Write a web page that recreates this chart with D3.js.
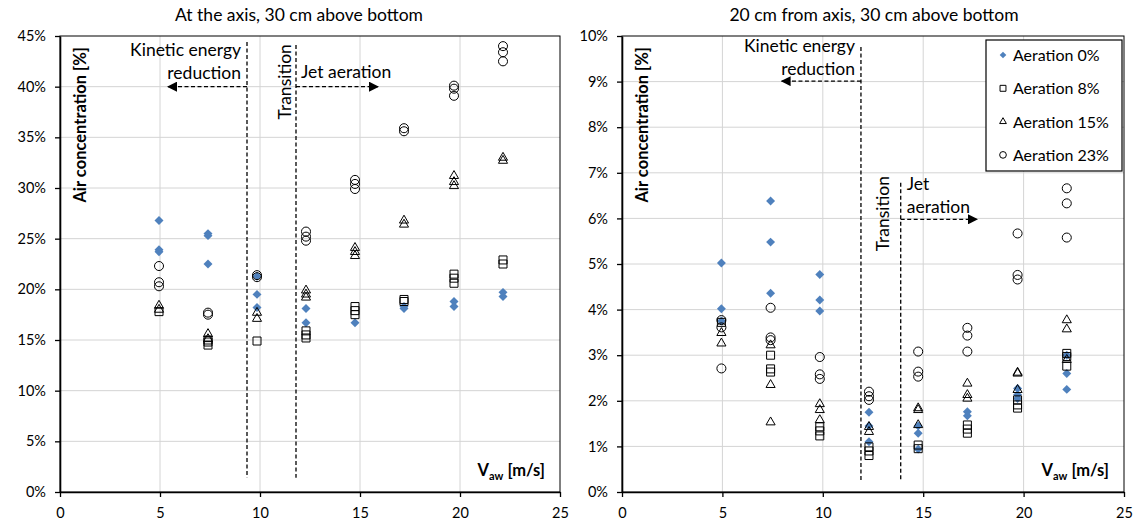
<!DOCTYPE html>
<html>
<head>
<meta charset="utf-8">
<script src="https://cdn.jsdelivr.net/npm/d3@7"></script>
<style>
body { margin: 0; background: #fff; }
text { font-family: Lato, "Open Sans", sans-serif; fill: #000; }
</style>
</head>
<body>
<svg id="chart" width="1146" height="526"></svg>
<script>
// velocity columns (m/s), shared by both charts
const xCols = [4.95, 7.4, 9.85, 12.3, 14.75, 17.2, 19.7, 22.15];

// left chart: at the axis, values in % per column
const axisAer0 = [[26.8, 23.9, 23.7], [25.5, 25.3, 22.5], [21.3, 19.5, 18.2], [18.1, 16.7], [16.7], [18.3, 18.1], [18.8, 18.3], [19.7, 19.3]];
const axisAer8 = [[17.8], [15.0, 14.8, 14.5], [14.9], [15.9, 15.5, 15.2], [18.3, 17.9, 17.5], [19.0, 18.8], [21.5, 21.1, 20.6], [22.9, 22.5]];
const axisAer15 = [[18.4, 18.0], [15.6, 15.1], [17.7, 17.1], [19.9, 19.5, 19.2], [24.1, 23.7, 23.3], [26.8, 26.4], [31.2, 30.6, 30.2], [33.0, 32.7]];
const axisAer23 = [[22.3, 20.7, 20.3], [17.7, 17.5], [21.4, 21.2], [25.7, 25.2, 24.8], [30.8, 30.4, 29.9], [35.9, 35.6], [40.1, 39.8, 39.1], [44.0, 43.4, 42.5]];

// right chart: 20 cm from axis
const offAer0 = [[5.02, 4.02, 3.75], [6.38, 5.48, 4.36], [4.77, 4.21, 3.97], [1.75, 1.45, 1.10], [1.45, 1.29, 0.94], [1.76, 1.67], [2.27, 2.13, 2.05], [3.0, 2.6, 2.25]];
const offAer8 = [[3.72], [3.0, 2.7, 2.63], [1.43, 1.34, 1.23], [0.99, 0.9, 0.8], [1.03, 0.95], [1.47, 1.38, 1.29], [2.02, 1.91, 1.84], [3.04, 2.97, 2.76]];
const offAer15 = [[3.49, 3.26], [3.22, 2.35, 1.53], [1.93, 1.8, 1.58], [1.43, 1.32], [1.84, 1.8, 1.47], [2.38, 2.13, 2.05], [2.62, 2.6, 2.24], [3.77, 3.57, 2.9]];
const offAer23 = [[3.77, 3.61, 2.71], [4.04, 3.39, 3.33], [2.96, 2.58, 2.48], [2.2, 2.1, 2.02], [3.08, 2.64, 2.53], [3.6, 3.43, 3.08], [5.67, 4.76, 4.66], [6.66, 6.33, 5.58]];

const seriesNames = ['Aeration 0%', 'Aeration 8%', 'Aeration 15%', 'Aeration 23%'];
const xTicks = [0, 5, 10, 15, 20, 25];
const leftYTicks = d3.range(0, 46, 5);
const rightYTicks = d3.range(0, 11, 1);

const svg = d3.select('#chart');
const blue = '#4f81bd';

const styles = [
    { type: d3.symbolSquare, size: 40, rot: 45, fill: blue, stroke: 'none' },
    { type: d3.symbolSquare, size: 64, rot: 0, fill: 'none', stroke: '#000' },
    { type: d3.symbolTriangle, size: 36, rot: 0, fill: 'none', stroke: '#000' },
    { type: d3.symbolCircle, size: 64, rot: 0, fill: 'none', stroke: '#000' }
];

svg.append('defs').append('marker')
    .attr('id', 'arrow')
    .attr('viewBox', '0 0 10 10')
    .attr('refX', 9).attr('refY', 5)
    .attr('markerWidth', 10).attr('markerHeight', 10)
    .attr('markerUnits', 'userSpaceOnUse')
    .attr('orient', 'auto')
    .append('path')
    .attr('d', 'M0,0 L10,5 L0,10 z')
    .attr('fill', '#000');

function toPoints(cols) {
    const pts = [];
    cols.forEach((vals, i) => vals.forEach(v => pts.push({ x: xCols[i], y: v })));
    return pts;
}

function drawChart(opt) {
    const g = svg.append('g');
    const x = d3.scaleLinear().domain([0, 25]).range([opt.left, opt.right]);
    const y = d3.scaleLinear().domain([0, opt.yMax]).range([492, 36]);

    // gridlines
    g.selectAll('.hg').data(opt.yTicks.slice(1, -1)).enter().append('line')
        .attr('x1', opt.left).attr('x2', opt.right)
        .attr('y1', d => y(d)).attr('y2', d => y(d))
        .attr('stroke', '#d4d4d4').attr('stroke-width', 1);
    g.selectAll('.vg').data(xTicks.slice(1, -1)).enter().append('line')
        .attr('x1', d => x(d)).attr('x2', d => x(d))
        .attr('y1', 36).attr('y2', 492)
        .attr('stroke', '#d4d4d4').attr('stroke-width', 1);

    // plot border
    g.append('rect')
        .attr('x', opt.left).attr('y', 36)
        .attr('width', opt.right - opt.left).attr('height', 456)
        .attr('fill', 'none').attr('stroke', '#000').attr('stroke-width', 1);

    const yAxis = g.append('g')
        .attr('transform', 'translate(' + opt.left + ',0)')
        .call(d3.axisLeft(y).tickValues(opt.yTicks).tickFormat(d => d + '%').tickSize(5).tickSizeOuter(0).tickPadding(9));
    const xAxis = g.append('g')
        .attr('transform', 'translate(0,492)')
        .call(d3.axisBottom(x).tickValues(xTicks).tickSize(5).tickSizeOuter(0).tickPadding(11));
    [xAxis, yAxis].forEach(a => {
        a.select('.domain').attr('stroke', '#000').attr('stroke-width', 1.6);
        a.selectAll('.tick line').attr('stroke', '#000').attr('stroke-width', 1.3);
        a.selectAll('.tick text').style('font-size', '14.5px').style('font-family', 'Lato, sans-serif').attr('fill', '#000');
    });

    // title
    g.append('text')
        .attr('x', opt.titleX).attr('y', 21)
        .attr('text-anchor', 'middle')
        .style('font-size', '17.5px')
        .text(opt.title);

    // axis titles
    g.append('text')
        .attr('transform', 'translate(' + (opt.left + 26) + ',47) rotate(-90)')
        .attr('text-anchor', 'end')
        .style('font-size', '16.5px').style('font-weight', 'bold')
        .text('Air concentration [%]');
    const vt = g.append('text')
        .attr('x', opt.right - 15).attr('y', 476)
        .attr('text-anchor', 'end')
        .style('font-size', '16.5px').style('font-weight', 'bold');
    vt.append('tspan').text('V');
    vt.append('tspan').attr('dy', 4).style('font-size', '11px').text('aw');
    vt.append('tspan').attr('dy', -4).text(' [m/s]');

    // annotations
    const dashed = (x1, y1, x2, y2, arrow) => {
        const l = g.append('line')
            .attr('x1', x(x1)).attr('y1', y(y1)).attr('x2', x(x2)).attr('y2', y(y2))
            .attr('stroke', '#000').attr('stroke-width', 1.3)
            .attr('stroke-dasharray', '4,2.5');
        if (arrow) l.attr('marker-end', 'url(#arrow)');
    };
    const label = (tx, ty, txt, anchor) => g.append('text')
        .attr('x', x(tx)).attr('y', y(ty))
        .attr('text-anchor', anchor)
        .style('font-size', '17.5px')
        .text(txt);

    const a = opt.notes;
    dashed(a.line1, a.line1Top, a.line1, a.lineBottom, false);
    dashed(a.line2, a.line2Top, a.line2, a.lineBottom, false);
    dashed(a.line1, a.arrowLeftY, a.arrowLeftEnd, a.arrowLeftY, true);
    dashed(a.line2, a.arrowRightY, a.arrowRightEnd, a.arrowRightY, true);
    a.leftText.forEach(t => label(t[0], t[1], t[2], 'end'));
    a.rightText.forEach(t => label(t[0], t[1], t[2], 'start'));
    g.append('text')
        .attr('transform', 'translate(' + x(a.transX) + ',' + y(a.transY) + ') rotate(-90)')
        .attr('text-anchor', 'end')
        .style('font-size', '17.5px')
        .text('Transition');

    // points
    opt.series.forEach((cols, i) => {
        const s = styles[i];
        const sym = d3.symbol().type(s.type).size(s.size);
        g.append('g').selectAll('path')
            .data(toPoints(cols))
            .enter().append('path')
            .attr('d', sym)
            .attr('transform', d => 'translate(' + x(d.x) + ',' + y(d.y) + ') rotate(' + s.rot + ')')
            .attr('fill', s.fill)
            .attr('stroke', s.stroke)
            .attr('stroke-width', 1);
    });

    // legend
    if (opt.legend) {
        const lg = g.append('g').attr('transform', 'translate(986,40)');
        lg.append('rect')
            .attr('width', 136).attr('height', 131)
            .attr('fill', '#fff').attr('stroke', '#000').attr('stroke-width', 1.2);
        seriesNames.forEach((name, i) => {
            const s = styles[i];
            const yy = 15 + i * 33.3;
            lg.append('path')
                .attr('d', d3.symbol().type(s.type).size(s.size * 0.55)())
                .attr('transform', 'translate(17,' + yy + ') rotate(' + s.rot + ')')
                .attr('fill', s.fill).attr('stroke', s.stroke).attr('stroke-width', 1);
            lg.append('text')
                .attr('x', 27).attr('y', yy + 6)
                .style('font-size', '16px')
                .text(name);
        });
    }
}

drawChart({
    left: 60, right: 560, yMax: 45, yTicks: leftYTicks, titleX: 299,
    title: 'At the axis, 30 cm above bottom',
    series: [axisAer0, axisAer8, axisAer15, axisAer23],
    notes: {
        line1: 9.35, line1Top: 44.4, line2: 11.8, line2Top: 44.1, lineBottom: 1.4,
        arrowLeftY: 40, arrowLeftEnd: 5.4, arrowRightY: 40, arrowRightEnd: 15.9,
        leftText: [[9.05, 43.0, 'Kinetic energy'], [9.05, 40.8, 'reduction']],
        rightText: [[12.05, 40.9, 'Jet aeration']],
        transX: 11.55, transY: 44.2
    },
    legend: false
});

drawChart({
    left: 622, right: 1124, yMax: 10, yTicks: rightYTicks, titleX: 874,
    title: '20 cm from axis, 30 cm above bottom',
    series: [offAer0, offAer8, offAer15, offAer23],
    notes: {
        line1: 11.9, line1Top: 9.76, line2: 13.88, line2Top: 6.78, lineBottom: 0.25,
        arrowLeftY: 9.01, arrowLeftEnd: 7.95, arrowRightY: 5.98, arrowRightEnd: 17.68,
        leftText: [[11.6, 9.65, 'Kinetic energy'], [11.6, 9.14, 'reduction']],
        rightText: [[14.18, 6.62, 'Jet'], [14.18, 6.12, 'aeration']],
        transX: 13.3, transY: 6.93
    },
    legend: true
});
</script>
</body>
</html>
